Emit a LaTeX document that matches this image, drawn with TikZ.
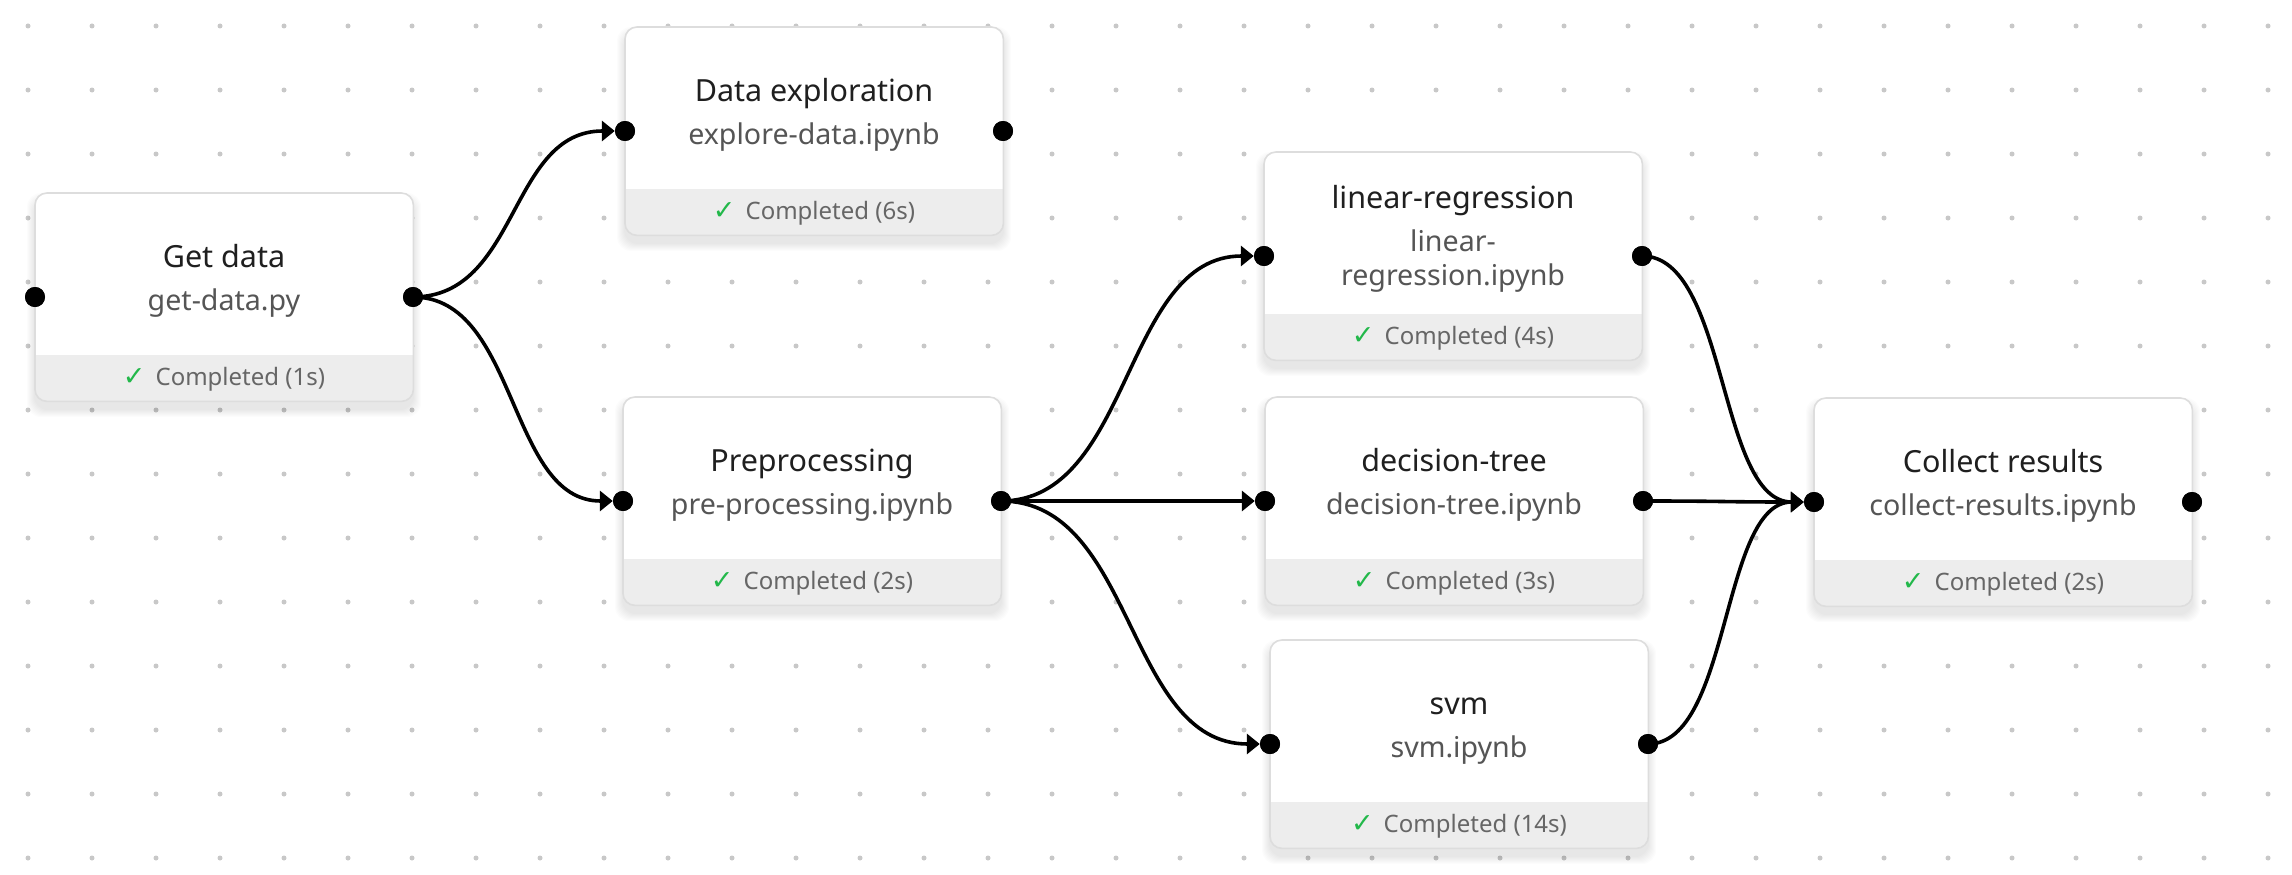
\documentclass[tikz,border=0pt]{standalone}
\usepackage{fontspec}
\setmainfont{Noto Sans}
\newfontfamily\symfont{DejaVu Sans}
\usetikzlibrary{arrows.meta}
\definecolor{gridc}{HTML}{C8C8C8}
\definecolor{bordc}{HTML}{DDDDDD}
\definecolor{footc}{HTML}{EDEDED}
\definecolor{titc}{HTML}{1F1F1F}
\definecolor{subc}{HTML}{555555}
\definecolor{foott}{HTML}{666666}
\definecolor{okc}{HTML}{22B84A}
\tikzset{
 boxbg/.style={fill=white, rounded corners=12pt, minimum width=378pt, minimum height=208pt, inner sep=0pt, anchor=north west},
 boxline/.style={draw=bordc, line width=1.6pt, rounded corners=12pt},
 titletext/.style={anchor=base, text=titc, font=\fontsize{30.5}{36}\selectfont, inner sep=0pt},
 subtext/.style={anchor=base, text=subc, font=\fontsize{28.6}{34}\selectfont, inner sep=0pt},
 foottext/.style={anchor=base, text=foott, font=\fontsize{24}{28}\selectfont, inner sep=0pt},
 port/.style={circle, fill=black, inner sep=0pt, minimum size=20pt},
 edge/.style={line width=3.6pt, -{Triangle[length=13pt,width=20pt]}},
}
\newcommand\taskframe[3]{%
  \foreach \k in {1,...,8}{\fill[black, opacity=0.01, rounded corners=14pt] (#2-\k, #3-\k+8) rectangle (#2+378+\k, #3+208+\k+8);}
  \node[boxbg] (#1) at (#2,#3) {};
  \begin{scope}
    \clip (#2,#3+162) rectangle (#2+378,#3+210);
    \fill[footc, rounded corners=12pt] (#1.north west) rectangle (#1.south east);
  \end{scope}
  \draw[boxline] (#1.north west) rectangle (#1.south east);
  \node[port] (#1-l) at (#2,#3+104) {};
  \node[port] (#1-r) at (#2+378,#3+104) {};
}
\newcommand\taskfoot[4]{%
  \node[foottext] (#1-f) at (#2+189,#3+192) {{\symfont\color{okc}\fontsize{27}{30}\selectfont ✓}\hspace{10pt}Completed (#4)};
}
\newcommand\tasktext[6]{%
  \node[titletext] (#1-t) at (#2+189,#3+74) {#4};
  \node[subtext] (#1-s) at (#2+189,#3+117) {#5};
  \taskfoot{#1}{#2}{#3}{#6}
}
\begin{document}
\begin{tikzpicture}[x=1pt,y=-1pt]
\useasboundingbox (0,0) rectangle (2292,875);
\fill[white] (0,0) rectangle (2292,875);
\foreach \i in {0,...,35}{\foreach \j in {0,...,13}{\fill[gridc] (28+64*\i, 26+64*\j) circle (2.5pt);}}

\taskframe{gd}{35}{193}
\tasktext{gd}{35}{193}{Get data}{get-data.py}{1s}
\taskframe{de}{625}{27}
\tasktext{de}{625}{27}{Data exploration}{explore-data.ipynb}{6s}
\taskframe{pp}{623}{397}
\tasktext{pp}{623}{397}{Preprocessing}{pre-processing.ipynb}{2s}
\taskframe{lr}{1264}{152}
\node[titletext] (lr-t) at (1264+189,152+56) {linear-regression};
\node[subtext] (lr-s1) at (1264+189,152+99) {linear-};
\node[subtext] (lr-s2) at (1264+189,152+133) {regression.ipynb};
\taskfoot{lr}{1264}{152}{4s}
\taskframe{dt}{1265}{397}
\tasktext{dt}{1265}{397}{decision-tree}{decision-tree.ipynb}{3s}
\taskframe{sv}{1270}{640}
\tasktext{sv}{1270}{640}{svm}{svm.ipynb}{14s}
\taskframe{cr}{1814}{398}
\tasktext{cr}{1814}{398}{Collect results}{collect-results.ipynb}{2s}

\draw[edge] (gd-r.center) .. controls +(106,0) and +(-106,0) .. (de-l.west);
\draw[edge] (gd-r.center) .. controls +(105,0) and +(-105,0) .. (pp-l.west);
\draw[edge] (pp-r.center) .. controls +(131,0) and +(-131,0) .. (lr-l.west);
\draw[edge] (pp-r.center) -- (dt-l.west);
\draw[edge] (pp-r.center) .. controls +(134,0) and +(-134,0) .. (sv-l.west);
\draw[edge] (lr-r.center) .. controls +(86,0) and +(-86,0) .. (cr-l.west);
\draw[edge] (dt-r.center) .. controls +(85,0) and +(-85,0) .. (cr-l.west);
\draw[edge] (sv-r.center) .. controls +(83,0) and +(-83,0) .. (cr-l.west);
\foreach \p in {gd-l,gd-r,de-l,de-r,pp-l,pp-r,lr-l,lr-r,dt-l,dt-r,sv-l,sv-r,cr-l,cr-r}{\node[port] at (\p.center) {};}
\end{tikzpicture}
\end{document}
